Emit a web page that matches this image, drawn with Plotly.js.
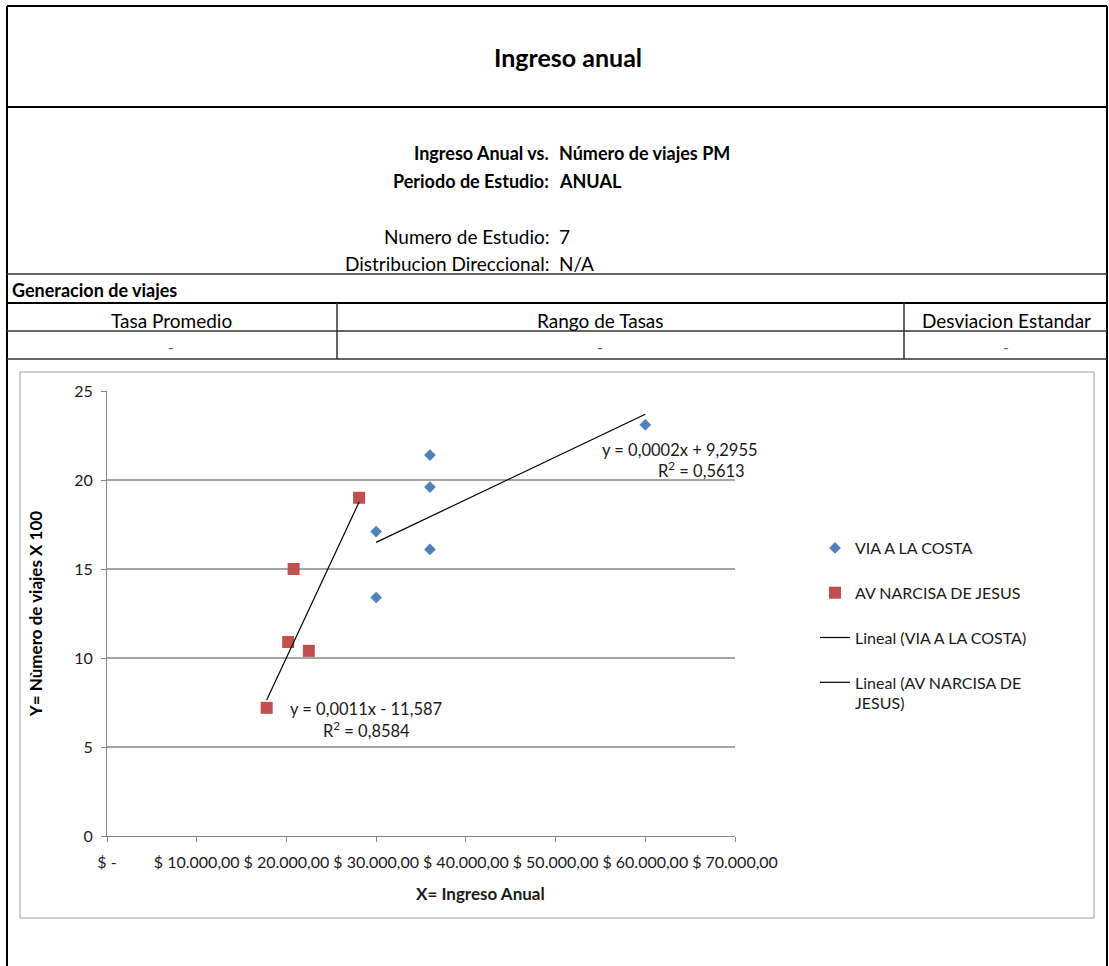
<!DOCTYPE html>
<html><head><meta charset="utf-8">
<script src="https://cdn.plot.ly/plotly-3.0.1.min.js"></script>
<style>html,body{margin:0;padding:0;background:#fff}#chart{width:1109px;height:966px}</style>
</head><body><div id="chart"></div>
<script>
// ---- data ----
const seriesNames = ['VIA A LA COSTA', 'AV NARCISA DE JESUS'];
const viaX = [30000, 30000, 36000, 36000, 36000, 60000];
const viaY = [17.1, 13.4, 21.4, 19.6, 16.1, 23.1];
const narX = [17800, 20200, 20800, 22500, 28100];
const narY = [7.2, 10.9, 15.0, 10.4, 19.0];
// linear trendline coefficients (slope, intercept)
const trendSlope = [0.00024, 0.00108];
const trendIntercept = [9.2955, -11.587];
const trendEq = ['y = 0,0002x + 9,2955', 'y = 0,0011x - 11,587'];
const trendR2 = ['R<sup>2</sup> = 0,5613', 'R<sup>2</sup> = 0,8584'];
const xTickVals = [0, 10000, 20000, 30000, 40000, 50000, 60000, 70000];
const xTickText = ['$ -', '$ 10.000,00', '$ 20.000,00', '$ 30.000,00', '$ 40.000,00', '$ 50.000,00', '$ 60.000,00', '$ 70.000,00'];
const yTickVals = [0, 5, 10, 15, 20, 25];

// ---- layout helpers (pixel -> paper) ----
const W = 1109, H = 966;
const M = {l: 107, r: 374, t: 391, b: 130};
const PW = W - M.l - M.r, PH = H - M.t - M.b;
const px = x => (x - M.l) / PW;
const py = y => (H - M.b - y) / PH;
const FONT = 'Lato, "Open Sans", "DejaVu Sans", sans-serif';
const TXT = '#1a1a1a';

function trendLine(xs, i) {
  const x0 = Math.min(...xs), x1 = Math.max(...xs);
  return [[x0, x1], [trendSlope[i] * x0 + trendIntercept[i], trendSlope[i] * x1 + trendIntercept[i]]];
}
const tVia = trendLine(viaX, 0), tNar = trendLine(narX, 1);

const data = [
  {x: viaX, y: viaY, type: 'scatter', mode: 'markers', name: seriesNames[0], legendgroup: 'g1',
   marker: {symbol: 'diamond', size: 9, color: '#4F81BD'}},
  {x: narX, y: narY, type: 'scatter', mode: 'markers', name: seriesNames[1], legendgroup: 'g2',
   marker: {symbol: 'square', size: 12, color: '#C0504D'}},
  {x: tVia[0], y: tVia[1], type: 'scatter', mode: 'lines', name: 'Lineal (' + seriesNames[0] + ')', legendgroup: 'g3',
   line: {color: '#000', width: 1.2}},
  {x: tNar[0], y: tNar[1], type: 'scatter', mode: 'lines', name: 'Lineal (AV NARCISA DE<br>JESUS)', legendgroup: 'g4',
   line: {color: '#000', width: 1.2}}
];

function hline(y, x0, x1, w, c) { return {type: 'line', xref: 'paper', yref: 'paper', x0: px(x0), x1: px(x1), y0: py(y), y1: py(y), line: {color: c || '#000', width: w}}; }
function vline(x, y0, y1, w, c) { return {type: 'line', xref: 'paper', yref: 'paper', x0: px(x), x1: px(x), y0: py(y0), y1: py(y1), line: {color: c || '#000', width: w}}; }
function txt(t, x, y, anchor, size, bold, color) {
  return {text: t, xref: 'paper', yref: 'paper', x: px(x), y: py(y), xanchor: anchor, yanchor: 'middle', showarrow: false,
          font: {family: FONT, size: size, color: color || '#000', weight: bold ? 'bold' : 'normal'}};
}

const shapes = [
  hline(6, 7, 1107, 2), vline(7, 6, 966, 2), vline(1107, 6, 966, 2),
  hline(107, 7, 1107, 2),
  hline(274, 7, 1107, 1.5, '#333'),
  hline(303, 7, 1107, 2),
  hline(331, 7, 1107, 1.5, '#333'),
  hline(359, 7, 1107, 1.5, '#333'),
  vline(337, 303, 359, 1.5, '#333'), vline(904, 303, 359, 1.5, '#333'),
  {type: 'rect', xref: 'paper', yref: 'paper', x0: px(20), x1: px(1094), y0: py(918), y1: py(372), line: {color: '#BFBFBF', width: 1.5}}
];

const annotations = [
  txt('Ingreso anual', 568, 57, 'center', 25, true),
  txt('Ingreso Anual vs.', 551, 153, 'right', 18, true),
  txt('Número de viajes PM', 557, 153, 'left', 18, true),
  txt('Periodo de Estudio:', 551, 181, 'right', 18, true),
  txt('ANUAL', 557, 181, 'left', 18, true),
  txt('Numero de Estudio:', 551, 236, 'right', 19, false),
  txt('7', 557, 236, 'left', 19, false),
  txt('Distribucion Direccional:', 551, 263, 'right', 19, false),
  txt('N/A', 557, 263, 'left', 19, false),
  txt('Generacion de viajes', 10, 290, 'left', 18, true),
  txt('Tasa Promedio', 171, 320, 'center', 19, false),
  txt('Rango de Tasas', 600, 320, 'center', 19, false),
  txt('Desviacion Estandar', 1006, 320, 'center', 19, false),
  txt('-', 171, 346, 'center', 16, false, '#666'),
  txt('-', 600, 346, 'center', 16, false, '#666'),
  txt('-', 1006, 346, 'center', 16, false, '#666'),
  txt('X= Ingreso Anual', 480, 893, 'center', 17, true, TXT),
  // trendline labels (data coordinates)
  {text: trendEq[0], xref: 'x', yref: 'y', x: 63870, y: 21.69, showarrow: false, font: {family: FONT, size: 16.5, color: TXT}},
  {text: trendR2[0], xref: 'x', yref: 'y', x: 66210, y: 20.56, showarrow: false, font: {family: FONT, size: 16.5, color: TXT}},
  {text: trendEq[1], xref: 'x', yref: 'y', x: 28870, y: 7.13, showarrow: false, font: {family: FONT, size: 16.5, color: TXT}},
  {text: trendR2[1], xref: 'x', yref: 'y', x: 28870, y: 5.96, showarrow: false, font: {family: FONT, size: 16.5, color: TXT}}
];

const layout = {
  width: W, height: H,
  margin: M,
  paper_bgcolor: '#fff', plot_bgcolor: '#fff',
  font: {family: FONT, color: TXT},
  showlegend: true,
  legend: {x: px(815), y: py(531), xanchor: 'left', yanchor: 'top', valign: 'top',
           font: {family: FONT, size: 16, color: TXT}, tracegroupgap: 21, bgcolor: 'rgba(0,0,0,0)'},
  xaxis: {range: [0, 70000], tickvals: xTickVals, ticktext: xTickText, tickangle: 0,
          showgrid: false, zeroline: false, showline: true, linecolor: '#868686', linewidth: 1,
          ticks: 'outside', ticklen: 5, tickcolor: '#868686', ticklabelstandoff: 7,
          tickfont: {family: FONT, size: 16, color: TXT}},
  yaxis: {range: [0, 25], tickvals: yTickVals, showgrid: true, gridcolor: '#A6A6A6', gridwidth: 1.2,
          zeroline: false, showline: true, linecolor: '#868686', linewidth: 1,
          ticks: 'outside', ticklen: 5, tickcolor: '#868686', ticklabelstandoff: 5,
          tickfont: {family: FONT, size: 16, color: TXT},
          title: {text: 'Y= Nùmero de viajes X 100', standoff: 27, font: {family: FONT, size: 17, color: '#000', weight: 'bold'}}},
  shapes: shapes,
  annotations: annotations
};

Plotly.newPlot('chart', data, layout, {displayModeBar: false, staticPlot: true});
</script>
</body></html>
